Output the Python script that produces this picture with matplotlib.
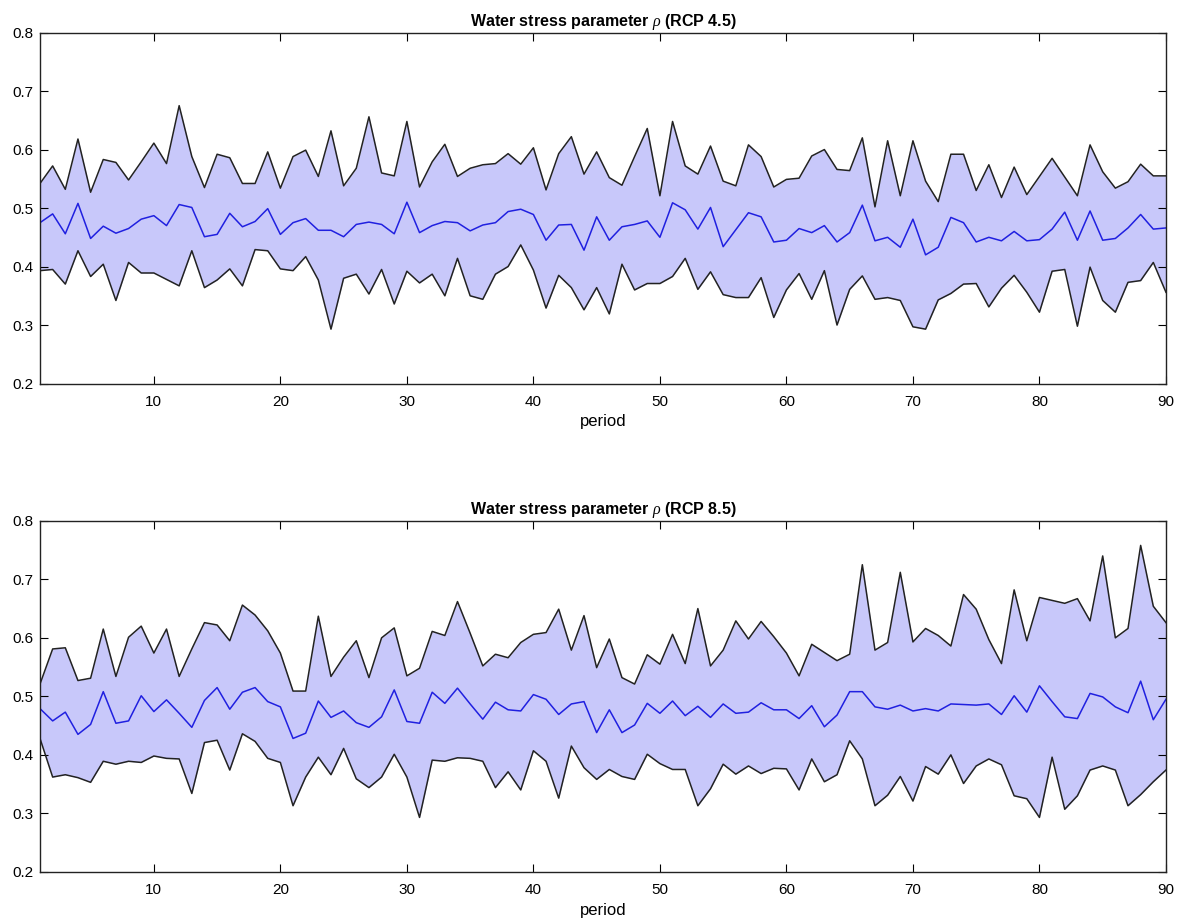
import numpy as np
from matplotlib import pyplot as plt

period = np.arange(1, 91)

# RCP 4.5: upper bound, mean, lower bound
rcp45_hi = [0.542, 0.572, 0.532, 0.618, 0.527, 0.583, 0.578, 0.548, 0.579, 0.611, 0.576, 0.675, 0.588, 0.535, 0.592, 0.586,
            0.542, 0.542, 0.596, 0.534, 0.588, 0.599, 0.554, 0.632, 0.538, 0.568, 0.656, 0.560, 0.555, 0.648, 0.536,
            0.579, 0.609, 0.554, 0.568, 0.574, 0.576, 0.593, 0.575, 0.603, 0.531, 0.593, 0.622, 0.558, 0.596, 0.552,
            0.539, 0.588, 0.636, 0.521, 0.648, 0.572, 0.558, 0.606, 0.546, 0.538, 0.608, 0.588, 0.536, 0.549, 0.551,
            0.589, 0.600, 0.566, 0.564, 0.620, 0.502, 0.615, 0.521, 0.615, 0.546, 0.511, 0.592, 0.592, 0.530, 0.574,
            0.518, 0.570, 0.523, 0.554, 0.585, 0.553, 0.521, 0.608, 0.562, 0.534, 0.545, 0.575, 0.555, 0.555]
rcp45_mean = [0.475, 0.490, 0.456, 0.508, 0.448, 0.469, 0.457, 0.465, 0.481, 0.487, 0.470, 0.506, 0.501, 0.451, 0.455, 0.491,
              0.468, 0.477, 0.499, 0.455, 0.475, 0.482, 0.462, 0.462, 0.451, 0.472, 0.476, 0.472, 0.456, 0.510, 0.458,
              0.470, 0.477, 0.475, 0.461, 0.471, 0.475, 0.494, 0.498, 0.489, 0.445, 0.471, 0.472, 0.428, 0.485, 0.445,
              0.468, 0.472, 0.478, 0.450, 0.509, 0.497, 0.464, 0.501, 0.434, 0.463, 0.492, 0.485, 0.442, 0.445, 0.465,
              0.458, 0.470, 0.442, 0.458, 0.505, 0.444, 0.450, 0.433, 0.481, 0.420, 0.433, 0.484, 0.475, 0.442, 0.450,
              0.444, 0.460, 0.444, 0.446, 0.464, 0.493, 0.445, 0.495, 0.445, 0.448, 0.466, 0.489, 0.464, 0.466]
rcp45_lo = [0.393, 0.395, 0.370, 0.427, 0.383, 0.404, 0.342, 0.407, 0.389, 0.389, 0.378, 0.367, 0.427, 0.364, 0.377, 0.396,
            0.367, 0.429, 0.427, 0.396, 0.393, 0.417, 0.377, 0.293, 0.380, 0.387, 0.353, 0.395, 0.336, 0.392, 0.372,
            0.387, 0.350, 0.414, 0.350, 0.344, 0.387, 0.400, 0.437, 0.394, 0.329, 0.385, 0.364, 0.326, 0.364, 0.319,
            0.404, 0.360, 0.371, 0.371, 0.383, 0.414, 0.361, 0.391, 0.352, 0.347, 0.347, 0.381, 0.313, 0.360, 0.388,
            0.344, 0.393, 0.300, 0.361, 0.384, 0.344, 0.347, 0.342, 0.297, 0.293, 0.343, 0.354, 0.370, 0.371, 0.331,
            0.363, 0.385, 0.356, 0.322, 0.392, 0.395, 0.298, 0.399, 0.342, 0.322, 0.373, 0.376, 0.407, 0.356]

# RCP 8.5
rcp85_hi = [0.521, 0.581, 0.583, 0.527, 0.531, 0.615, 0.534, 0.601, 0.620, 0.574, 0.615, 0.534, 0.581, 0.626, 0.622, 0.595,
            0.656, 0.639, 0.612, 0.574, 0.509, 0.509, 0.637, 0.534, 0.567, 0.595, 0.532, 0.600, 0.617, 0.535, 0.548,
            0.611, 0.604, 0.662, 0.608, 0.552, 0.572, 0.566, 0.592, 0.606, 0.609, 0.649, 0.579, 0.638, 0.549, 0.598,
            0.532, 0.521, 0.571, 0.555, 0.606, 0.556, 0.650, 0.552, 0.579, 0.629, 0.598, 0.628, 0.602, 0.574, 0.535,
            0.589, 0.575, 0.561, 0.572, 0.725, 0.579, 0.592, 0.712, 0.593, 0.616, 0.604, 0.586, 0.674, 0.649, 0.597,
            0.556, 0.682, 0.595, 0.669, 0.664, 0.659, 0.667, 0.629, 0.740, 0.600, 0.616, 0.758, 0.654, 0.626]
rcp85_mean = [0.479, 0.458, 0.473, 0.435, 0.452, 0.508, 0.454, 0.458, 0.501, 0.474, 0.494, 0.471, 0.447, 0.493, 0.515, 0.478,
              0.507, 0.515, 0.491, 0.482, 0.428, 0.437, 0.492, 0.464, 0.475, 0.455, 0.447, 0.465, 0.511, 0.457, 0.454,
              0.507, 0.488, 0.514, 0.487, 0.461, 0.490, 0.477, 0.475, 0.503, 0.495, 0.469, 0.487, 0.491, 0.438, 0.477,
              0.438, 0.451, 0.488, 0.471, 0.492, 0.467, 0.483, 0.464, 0.487, 0.471, 0.473, 0.489, 0.477, 0.477, 0.462,
              0.484, 0.448, 0.468, 0.508, 0.508, 0.482, 0.478, 0.485, 0.475, 0.479, 0.475, 0.487, 0.486, 0.485, 0.487,
              0.469, 0.501, 0.473, 0.518, 0.491, 0.465, 0.462, 0.505, 0.499, 0.482, 0.472, 0.526, 0.460, 0.495]
rcp85_lo = [0.428, 0.362, 0.366, 0.361, 0.353, 0.389, 0.384, 0.389, 0.387, 0.398, 0.394, 0.393, 0.334, 0.421, 0.425, 0.374,
            0.436, 0.423, 0.394, 0.387, 0.313, 0.362, 0.396, 0.366, 0.411, 0.359, 0.344, 0.362, 0.401, 0.362, 0.293,
            0.391, 0.389, 0.395, 0.394, 0.389, 0.344, 0.371, 0.340, 0.407, 0.389, 0.326, 0.415, 0.378, 0.358, 0.375,
            0.363, 0.358, 0.401, 0.385, 0.375, 0.375, 0.313, 0.342, 0.384, 0.367, 0.381, 0.368, 0.377, 0.376, 0.340,
            0.393, 0.354, 0.366, 0.424, 0.393, 0.313, 0.331, 0.363, 0.321, 0.380, 0.367, 0.400, 0.351, 0.381, 0.393,
            0.383, 0.330, 0.325, 0.293, 0.396, 0.307, 0.330, 0.374, 0.381, 0.374, 0.313, 0.332, 0.354, 0.374]

titles = ['Water stress parameter $\\rho$ (RCP 4.5)', 'Water stress parameter $\\rho$ (RCP 8.5)']

plt.rcParams['font.family'] = ['Liberation Sans', 'DejaVu Sans']
plt.rcParams['mathtext.fontset'] = 'custom'
plt.rcParams['mathtext.it'] = 'Liberation Serif:italic'

fig = plt.figure(figsize=(11.8, 9.22), dpi=100)
ax1 = fig.add_axes([0.0339, 0.584, 0.9542, 0.3807])
ax2 = fig.add_axes([0.0339, 0.0544, 0.9542, 0.3807])

for ax, hi, mean, lo, title in [(ax1, rcp45_hi, rcp45_mean, rcp45_lo, titles[0]),
                                (ax2, rcp85_hi, rcp85_mean, rcp85_lo, titles[1])]:
    ax.fill_between(period, lo, hi, color='#c8c8fa', linewidth=0)
    ax.plot(period, hi, color='#222222', linewidth=1.1)
    ax.plot(period, lo, color='#222222', linewidth=1.1)
    ax.plot(period, mean, color='#2020e0', linewidth=1.1)
    ax.set_xlim(1, 90)
    ax.set_ylim(0.2, 0.8)
    ax.set_xticks(np.arange(10, 91, 10))
    ax.set_yticks(np.arange(0.2, 0.81, 0.1))
    ax.set_yticklabels(['%.1f' % v for v in np.arange(0.2, 0.81, 0.1)])
    ax.tick_params(direction='in', top=True, right=True, labelsize=11, length=6, width=0.8, pad=5)
    ax.tick_params(axis='x', pad=8)
    for sp in ax.spines.values():
        sp.set_linewidth(1.0)
        sp.set_color('#222222')
    ax.set_xlabel('period', fontsize=12, labelpad=4)
    ax.set_title(title, fontsize=11.5, fontweight='bold', pad=5)

fig.savefig('out.png', dpi=100)
